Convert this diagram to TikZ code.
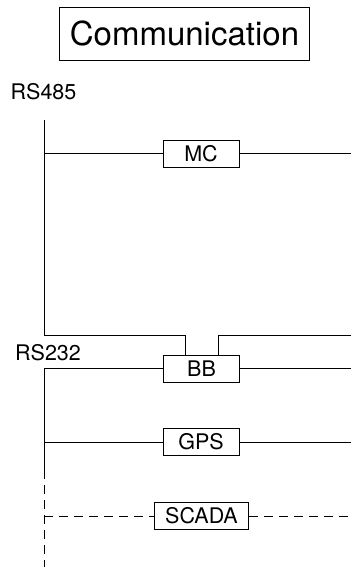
\documentclass[tikz,border=0pt]{standalone}
\usepackage{fontspec}
\setmainfont{TeX Gyre Heros}
\begin{document}
\begin{tikzpicture}[
x=1pt, y=-1pt,
line width=0.8pt,
box/.style={
draw,
minimum width=76pt,
minimum height=27pt,
inner xsep=11pt,
font=\fontsize{21.5}{25}\selectfont
},
buslabel/.style={
inner sep=0pt,
font=\fontsize{21.5}{25}\selectfont
},
spare/.style={dash pattern=on 9pt off 6pt}
]

\useasboundingbox (0,0) rectangle (351,569);

\node[box, minimum height=53pt, inner xsep=10pt, font=\fontsize{33}{39}\selectfont] (comm) at (184.5,33.5) {Communication};

\node[buslabel] (rs485) at (43.5,91.5) {RS485};
\node[buslabel] (rs232) at (48,352.5) {RS232};

\node[box] (mc) at (201,153.5) {MC};
\node[box] (bb) at (201.5,368.5) {BB};
\node[box] (gps) at (201,442) {GPS};
\node[box] (scada) at (201.5,516) {SCADA};

% RS485 bus
\coordinate (top485) at (44,120);
\coordinate (mcL) at (44,153.5);
\coordinate (mcR) at (351,153.5);
\coordinate (bbA) at (185,335);
\coordinate (bbB) at (218,335);
\coordinate (outB) at (351,335);

\draw (top485) |- (bbA) -- (bbA |- bb.north);
\draw (mcL) -- (mc);
\draw (mc) -- (mcR);
\draw (outB) -- (bbB) -- (bbB |- bb.north);

% RS232 bus
\coordinate (top232) at (44,368.5);
\coordinate (bbR) at (351,368.5);
\coordinate (gpsL) at (44,442);
\coordinate (gpsR) at (351,442);
\coordinate (endsolid) at (44,470);
\coordinate (end232) at (44,567);
\coordinate (scadaL) at (44,516);
\coordinate (scadaR) at (351,516);

\draw (end232 |- endsolid) -- (top232) -- (bb);
\draw (bb) -- (bbR);
\draw (gpsL) -- (gps);
\draw (gps) -- (gpsR);
\draw[spare] (endsolid) -- (end232);
\draw[spare] (scadaL) -- (scada);
\draw[spare] (scada) -- (scadaR);

\end{tikzpicture}
\end{document}
